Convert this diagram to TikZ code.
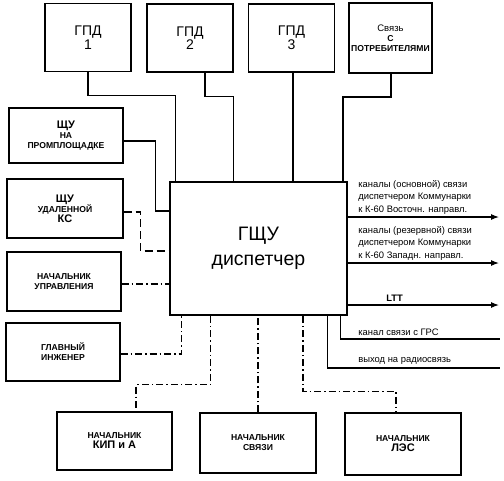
\documentclass[tikz,border=0pt]{standalone}
\usepackage{fontspec}
\setmainfont{Liberation Sans}
\usetikzlibrary{arrows.meta,calc}

\newcommand{\bigtxt}[1]{{\mdseries\fontsize{14}{15}\selectfont #1}}
\newcommand{\midtxt}[1]{{\fontsize{11}{12.5}\selectfont #1}}

\begin{document}
\begin{tikzpicture}[x=1pt,y=-1pt,
  box/.style={draw,line width=1.3pt,inner sep=2pt,align=center,font=\bfseries\fontsize{8.6}{10}\selectfont},
  topbox/.style={box,minimum width=86pt,minimum height=68pt},
  sidebox/.style={box,minimum width=115pt,minimum height=58pt},
  link/.style={line width=1.1pt},
  dashlink/.style={line width=1.3pt,dash pattern=on 8pt off 4pt},
  dotlink/.style={line width=1.3pt,dash pattern=on 7pt off 3pt on 1.5pt off 3pt},
  chan/.style={line width=1.1pt,-{Latex[length=8pt,width=6pt]}},
  note/.style={font=\fontsize{9.4}{12.5}\selectfont,align=left,inner sep=0pt}
]
  \useasboundingbox (0,0) rectangle (504,480);

  % upper row
  \node[topbox] (gpd1) at (88,37.5) {\bigtxt{ГПД}\\\bigtxt{1}};
  \node[topbox] (gpd2) at (190,38) {\bigtxt{ГПД}\\\bigtxt{2}};
  \node[topbox] (gpd3) at (291.5,38) {\bigtxt{ГПД}\\\bigtxt{3}};
  \node[topbox,minimum width=83pt,minimum height=70pt] (svyaz) at (390.5,38)
    {{\mdseries\fontsize{9.5}{11}\selectfont Связь}\\С\\ПОТРЕБИТЕЛЯМИ};

  % dispatcher
  \node[draw,line width=1.6pt,minimum width=177pt,minimum height=133pt,
    align=center,font=\fontsize{19.5}{25}\selectfont] (main) at (258.5,248.5) {ГЩУ\\диспетчер};

  % left column
  \node[sidebox,minimum width=114pt,minimum height=55pt] (shchu1) at (66,135.5) {\midtxt{ЩУ}\\НА\\ПРОМПЛОЩАДКЕ};
  \node[sidebox,minimum width=116pt,minimum height=59pt] (shchu2) at (65,208.5) {\midtxt{ЩУ}\\УДАЛЕННОЙ\\\midtxt{КС}};
  \node[sidebox,minimum width=114pt,minimum height=59pt] (nachupr) at (64,281.5) {НАЧАЛЬНИК\\УПРАВЛЕНИЯ};
  \node[sidebox,minimum width=114pt] (glinzh) at (63,352) {ГЛАВНЫЙ\\ИНЖЕНЕР};

  % lower row
  \node[sidebox] (kip) at (114.5,441) {НАЧАЛЬНИК\\\midtxt{КИП и А}};
  \node[sidebox,minimum width=116pt,minimum height=60pt] (svyazi) at (258,443) {НАЧАЛЬНИК\\СВЯЗИ};
  \node[sidebox,minimum width=116pt,minimum height=62pt] (les) at (403,444) {НАЧАЛЬНИК\\\midtxt{ЛЭС}};

  \coordinate (edge) at (499,0);
  \coordinate (grs) at (500,339);
  \coordinate (radio) at (500,368);

  % upper links
  \draw[link] (gpd1.south) -- ++(0,23) -| ([xshift=6pt]main.north west);
  \draw[link] ([xshift=15pt]gpd2.south) -- ++(0,24) -| ([xshift=64pt]main.north west);
  \draw[link] ([xshift=1.5pt]gpd3.south) -- ([xshift=1.5pt]gpd3.south |- main.north);
  \draw[line width=2pt] (svyaz.south) -- ++(0,23) -| ([xshift=-5pt]main.north east);

  % left links
  \draw[link] ([yshift=-5.5pt]shchu1.east) -- ++(32,0) |- ([yshift=37.5pt]main.west);
  \draw[dashlink] ([yshift=-3.5pt]shchu2.east) -- ++(17,0) |- ([yshift=-2.5pt]main.west);
  \draw[dotlink] ([yshift=-2.5pt]nachupr.east) -- ([yshift=-2.5pt]nachupr.east -| main.west);
  \draw[dotlink] ([yshift=-2pt]glinzh.east) -| ([xshift=12pt]main.south west);

  % lower links
  \draw[dotlink] ([xshift=41pt]main.south west) -- ++(0,69) -| ([xshift=21.5pt]kip.north);
  \draw[dotlink] (svyazi.north) -- (svyazi.north |- main.south);
  \draw[dotlink] ([xshift=44.5pt]main.south) -- ++(0,76) -| ([xshift=-7pt]les.north);

  % outgoing channels
  \draw[chan] ([yshift=31.5pt]main.east) coordinate (c1) -- node[pos=0,note,anchor=south west,xshift=10pt,yshift=2.5pt]
    {каналы (основной) связи\\диспетчером Коммунарки\\к К-60 Восточн. направл.} (c1 -| edge);
  \draw[chan] ([yshift=-14.5pt]main.east) coordinate (c2) -- node[pos=0,note,anchor=south west,xshift=10pt,yshift=2.5pt]
    {каналы (резервной) связи\\диспетчером Коммунарки\\к К-60 Западн. направл.} (c2 -| edge);
  \draw[chan] ([yshift=-56.5pt]main.east) coordinate (c3) -- node[pos=0,note,anchor=south west,xshift=38pt,yshift=3pt]
    {\bfseries LTT} (c3 -| edge);
  \draw[link] ([xshift=-7pt]main.south east) |- node[pos=0.5,note,anchor=south west,xshift=17pt,yshift=3pt]
    {канал связи с ГРС} (grs);
  \draw[link] ([xshift=-20pt]main.south east) |- node[pos=0.5,note,anchor=south west,xshift=30pt,yshift=3pt]
    {выход на радиосвязь} (radio);
\end{tikzpicture}
\end{document}
